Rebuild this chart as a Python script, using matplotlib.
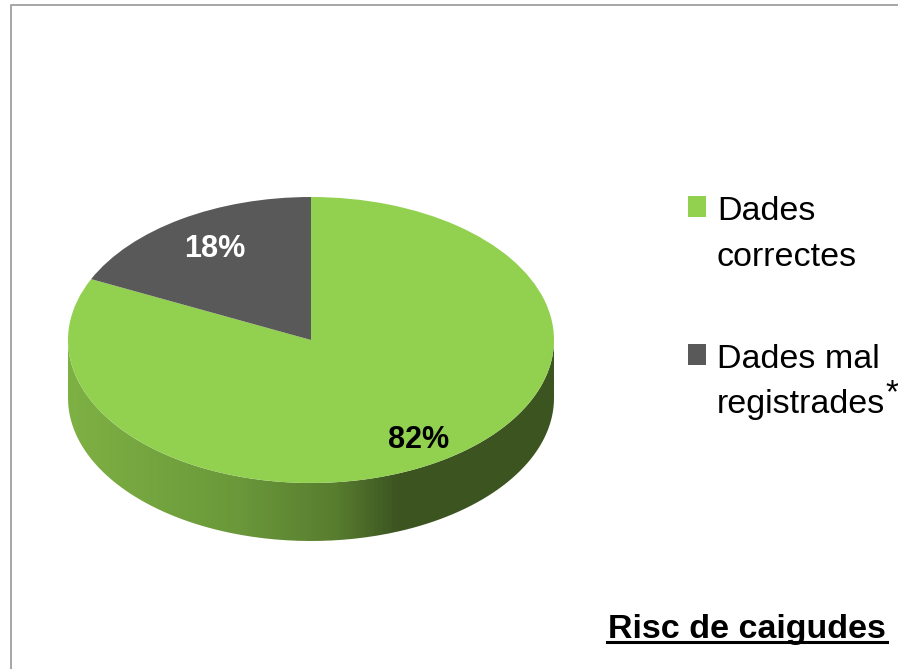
import numpy as np
import matplotlib
matplotlib.use("Agg")
import matplotlib.pyplot as plt
from matplotlib.colors import LinearSegmentedColormap
from matplotlib.patches import Rectangle, PathPatch
from matplotlib.path import Path
from matplotlib.lines import Line2D

plt.rcParams['font.family'] = ['Liberation Sans', 'DejaVu Sans']

labels = ['Dades\ncorrectes', 'Dades mal\nregistrades']
values = [82, 18]
colors = ['#92d050', '#595959']
title = 'Risc de caigudes'

W, H = 898, 669
fig = plt.figure(figsize=(W / 100, H / 100), dpi=100)

# pixel helpers, y measured from the top like in the picture
def fx(x):
    return x / W
def fy(y):
    return 1 - y / H

# outer frame
fig.add_artist(Line2D([fx(11), fx(11), fx(898)], [fy(669), fy(5), fy(5)], color='#a6a6a6', lw=1.4))

# the axes holds the squashed pie, with room below for the side wall
depth = 58 / 143
ax = fig.add_axes([fx(68), fy(541), 486 / W, 344 / H])

ax.pie(values, colors=colors, startangle=90, counterclock=False, radius=1, center=(0, 0),
       wedgeprops={'linewidth': 0, 'zorder': 3})

# side wall of the disc, a horizontal gradient clipped to the band
theta = np.linspace(np.pi, 2 * np.pi, 200)
low = np.column_stack([np.cos(theta), np.sin(theta) - depth])
top = np.column_stack([np.cos(theta[::-1]), np.sin(theta[::-1])])
band = PathPatch(Path(np.vstack([low, top, low[:1]])), fc='none', ec='none', transform=ax.transData)
ax.add_patch(band)
side_cmap = LinearSegmentedColormap.from_list('side', [
    (0.0, '#7eb144'), (0.35, '#6a983a'), (0.55, '#587d2f'), (0.68, '#3c5521'), (1.0, '#3c5420')])
im = ax.imshow(np.linspace(0, 1, 486).reshape(1, -1), cmap=side_cmap, extent=(-1, 1, -1 - depth, 0),
               aspect='auto', zorder=1, interpolation='bilinear')
im.set_clip_path(band)

ax.set_aspect('auto')
ax.set_xlim(-1, 1)
ax.set_ylim(-1 - depth, 1)
ax.axis('off')

# percent labels
fig.text(fx(419), fy(448), f'{values[0]}%', color='black', fontsize=22, fontweight='bold',
         ha='center', va='baseline', zorder=5)
fig.text(fx(215), fy(257), f'{values[1]}%', color='white', fontsize=22, fontweight='bold',
         ha='center', va='baseline', zorder=5)

# legend
marker_top = [196, 344]
baselines = [(220, 266), (368, 413)]
for lab, col, top_y, base in zip(labels, colors, marker_top, baselines):
    fig.add_artist(Rectangle((fx(688), fy(top_y + 21)), 18 / W, 21 / H, transform=fig.transFigure, fc=col, ec='none'))
    first, second = lab.split('\n')
    fig.text(fx(717), fy(base[0]), first, fontsize=24.5, va='baseline', ha='left', color='black')
    fig.text(fx(717), fy(base[1]), second, fontsize=24.5, va='baseline', ha='left', color='black')
fig.text(fx(885), fy(402), '*', fontsize=24, va='baseline', ha='left', color='black')

# title, bottom right
fig.text(fx(608), fy(638), title, fontsize=24.5, fontweight='bold', va='baseline', ha='left', color='black')
fig.add_artist(Line2D([fx(607), fx(887)], [fy(642), fy(642)], color='black', lw=2.2))

fig.savefig('out.png', dpi=100)
